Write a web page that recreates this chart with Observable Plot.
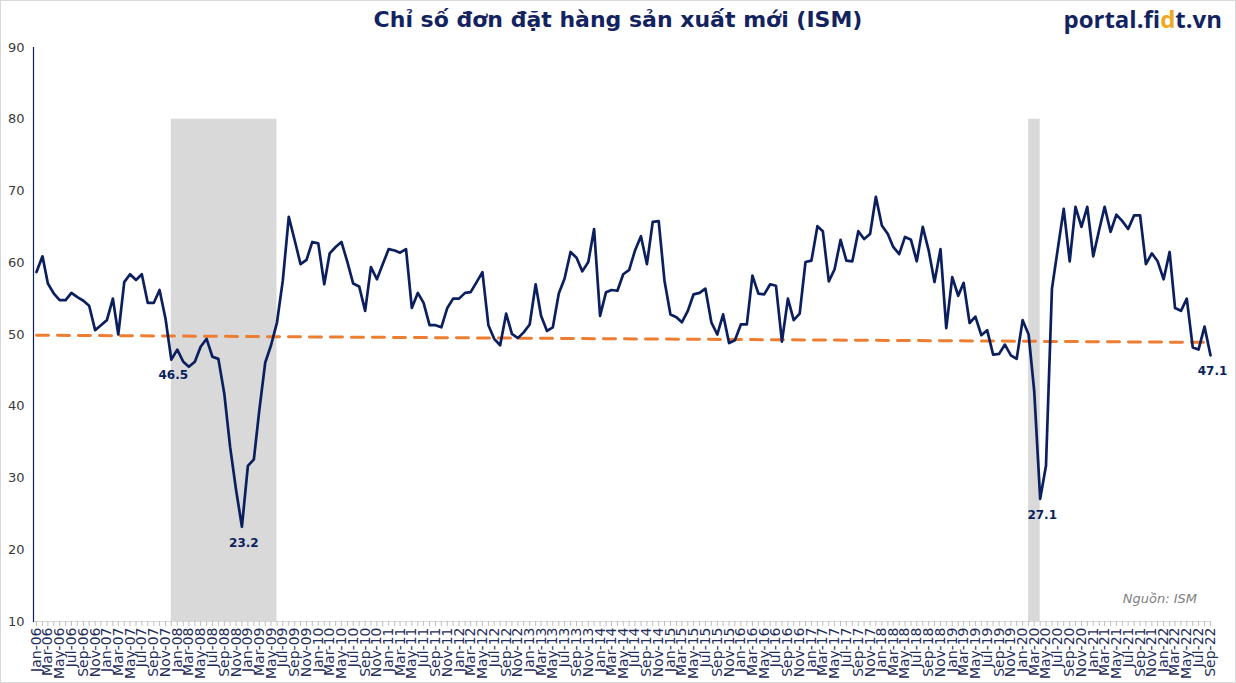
<!DOCTYPE html>
<html><head><meta charset="utf-8">
<script src="https://cdn.jsdelivr.net/npm/d3@7"></script>
<script src="https://cdn.jsdelivr.net/npm/@observablehq/plot@0.6"></script>
<style>
body{margin:0;background:#fff;}
#wrap{position:relative;width:1236px;height:683px;overflow:hidden;background:#fff;}
#chart{position:absolute;left:0;top:0;}
#border{position:absolute;left:0;top:0;width:1234px;height:681px;border:1px solid #d9d9d9;pointer-events:none;}
#title{position:absolute;left:0;width:1236px;top:7px;text-align:center;font:bold 22px "DejaVu Sans";color:#13235f;}
#logo{position:absolute;right:14px;top:2px;font:700 24px "Open Sans";color:#13235f;}
#source{position:absolute;right:39px;top:591px;font:italic 13px "DejaVu Sans";color:#7f7f7f;}
</style></head>
<body>
<div id="wrap">
  <div id="chart"></div>
  <div id="title">Chỉ số đơn đặt hàng sản xuất mới (ISM)</div>
  <div id="logo">portal.fi<span style="color:#f0a81e">d</span>t.vn</div>
  <div id="source">Nguồn: ISM</div>
  <div id="border"></div>
</div>
<script>
// ISM New Orders index, monthly from Jan-06
const startMonth = "2006-01";
const v2006 = [58.7, 60.9, 57.1, 55.7, 54.8, 54.8, 55.8, 55.2, 54.7, 54.0, 50.6, 51.3];
const v2007 = [52.0, 55.0, 50.0, 57.3, 58.4, 57.6, 58.4, 54.4, 54.4, 56.2, 52.2, 46.5];
const v2008 = [47.9, 46.2, 45.5, 46.2, 48.3, 49.4, 46.9, 46.6, 41.7, 34.3, 28.3, 23.2];
const v2009 = [31.7, 32.6, 39.4, 46.1, 48.5, 51.7, 57.5, 66.4, 63.1, 59.8, 60.4, 62.9];
const v2010 = [62.7, 57.0, 61.3, 62.2, 62.9, 60.1, 57.1, 56.7, 53.3, 59.4, 57.7, 59.8];
const v2011 = [61.9, 61.7, 61.4, 61.9, 53.7, 55.8, 54.4, 51.3, 51.3, 51.0, 53.7, 55.0];
const v2012 = [55.0, 55.8, 55.9, 57.3, 58.7, 51.3, 49.4, 48.5, 52.9, 50.1, 49.5, 50.3];
const v2013 = [51.4, 57.0, 52.6, 50.5, 51.0, 55.7, 57.8, 61.5, 60.7, 58.8, 60.1, 64.7];
const v2014 = [52.6, 55.9, 56.2, 56.1, 58.4, 59.0, 61.7, 63.7, 59.8, 65.7, 65.8, 57.5];
const v2015 = [52.8, 52.4, 51.7, 53.3, 55.6, 55.8, 56.4, 51.7, 50.0, 52.8, 48.8, 49.2];
const v2016 = [51.4, 51.4, 58.2, 55.7, 55.6, 57.0, 56.8, 49.0, 55.0, 52.0, 52.9, 60.1];
const v2017 = [60.3, 65.1, 64.4, 57.4, 59.1, 63.2, 60.3, 60.2, 64.4, 63.3, 64.0, 69.2];
const v2018 = [65.2, 64.0, 62.2, 61.2, 63.6, 63.2, 60.2, 65.0, 61.7, 57.3, 61.9, 50.9];
const v2019 = [58.0, 55.4, 57.2, 51.6, 52.5, 49.9, 50.6, 47.2, 47.3, 48.6, 47.1, 46.6];
const v2020 = [52.0, 50.0, 42.1, 27.1, 31.7, 56.4, 61.9, 67.5, 60.2, 67.8, 65.0, 67.8];
const v2021 = [60.9, 64.6, 67.8, 64.3, 66.7, 65.8, 64.7, 66.6, 66.6, 59.8, 61.3, 60.2];
const v2022 = [57.7, 61.5, 53.7, 53.3, 55.0, 48.2, 47.9, 51.1, 47.1];

// labelled points
const callouts = ["2007-12", "2008-12", "2020-04", "2022-09"];
// recession shading
const recessions = [
  {start: "2007-12", end: "2009-06"},
  {start: "2020-02", end: "2020-04"}
];
const shadeBottom = 10, shadeTop = 80;
// dashed orange reference line (start / end value)
const refStart = 49.9, refEnd = 48.9;
const yTicks = [10, 20, 30, 40, 50, 60, 70, 80, 90];

const parseYM = d3.utcParse("%Y-%m");
const fmtYM = d3.utcFormat("%Y-%m");
const fmtTick = d3.utcFormat("%b-%y");
const values = [].concat(v2006, v2007, v2008, v2009, v2010, v2011, v2012, v2013, v2014, v2015, v2016, v2017, v2018, v2019, v2020, v2021, v2022);
const start = parseYM(startMonth);
const data = values.map((value, i) => ({date: d3.utcMonth.offset(start, i), value}));
const lastDate = data[data.length - 1].date;
const calloutData = data.filter(d => callouts.includes(fmtYM(d.date)));
const shadeData = recessions.map(r => ({x1: parseYM(r.start), x2: parseYM(r.end), y1: shadeBottom, y2: shadeTop}));
const refData = [{date: start, value: refStart}, {date: lastDate, value: refEnd}];
const allMonths = data.map(d => d.date);
const labelMonths = allMonths.filter(d => d.getUTCMonth() % 2 === 0);

const navy = "#0b1f5e";
const chart = Plot.plot({
  width: 1236,
  height: 683,
  marginTop: 47,
  marginBottom: 62,
  marginLeft: 33,
  marginRight: 26,
  style: {fontFamily: "DejaVu Sans", fontSize: "13px", background: "transparent", overflow: "visible"},
  x: {type: "utc", domain: [start, lastDate], insetLeft: 3, axis: null},
  y: {domain: [10, 90], axis: null},
  marks: [
    Plot.rect(shadeData, {x1: "x1", x2: "x2", y1: "y1", y2: "y2", fill: "#d9d9d9"}),
    Plot.frame({anchor: "bottom", stroke: "#d9d9d9", strokeWidth: 1}),
    Plot.axisX({ticks: allMonths, tickFormat: () => "", tickSize: 5, stroke: "#bfbfbf"}),
    Plot.axisX({ticks: labelMonths, tickFormat: fmtTick, tickSize: 0, tickPadding: 6, tickRotate: -90, fontSize: 14, fill: "#1f2d5a", label: null}),
    Plot.axisY({ticks: yTicks, tickSize: 0, tickPadding: 9, fontSize: 13, fill: "#3a3a3a", label: null}),
    Plot.frame({anchor: "left", stroke: navy, strokeWidth: 1.2}),
    Plot.line(refData, {x: "date", y: "value", stroke: "#ed7d31", strokeWidth: 3, strokeDasharray: "12,9"}),
    Plot.line(data, {x: "date", y: "value", stroke: navy, strokeWidth: 2.7, strokeLinejoin: "round"}),
    Plot.text(calloutData, {x: "date", y: "value", text: d => d.value.toFixed(1), dy: 16, dx: 2, fontWeight: "bold", fontSize: 12, fill: navy})
  ]
});
document.getElementById("chart").appendChild(chart);
</script>
</body></html>
